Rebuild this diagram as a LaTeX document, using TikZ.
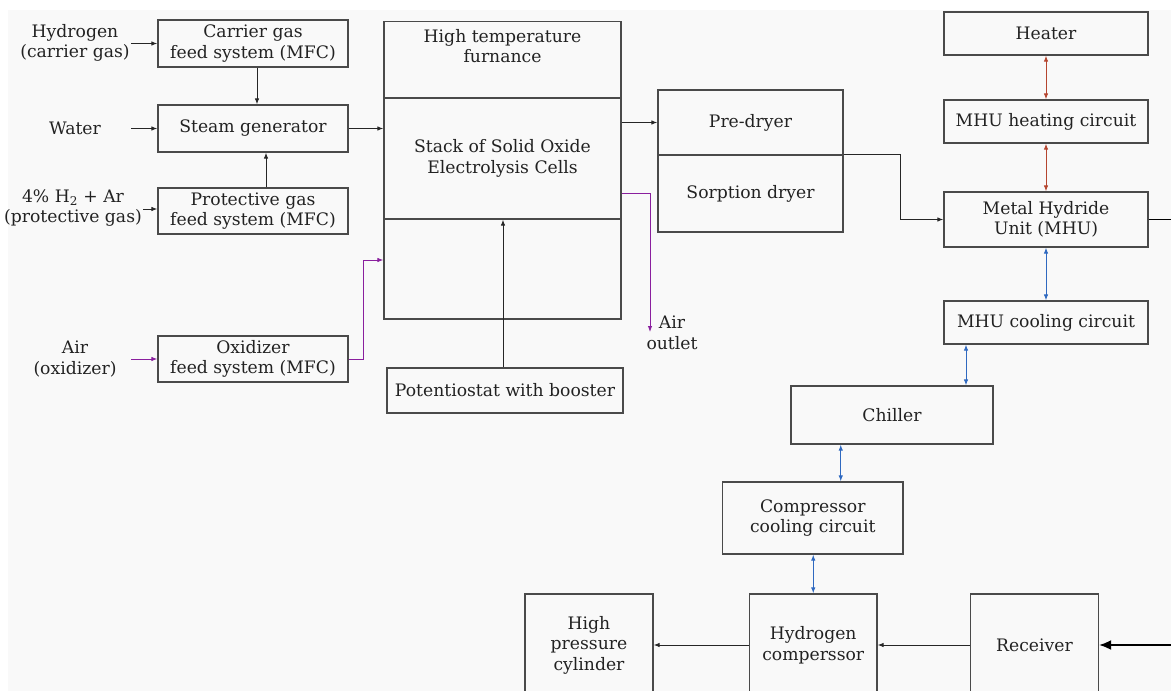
\documentclass[tikz,border=0pt]{standalone}
\usepackage{fontspec}
\setmainfont{DejaVu Serif}
\usepackage{xcolor}
\usepackage{tikz}
\usetikzlibrary{arrows.meta,positioning}
\definecolor{bgc}{HTML}{F9F9F9}
\definecolor{boxline}{HTML}{4A4A4A}
\definecolor{txt}{HTML}{222222}
\definecolor{heatred}{HTML}{B5452F}
\definecolor{coolblue}{HTML}{2F69C0}
\definecolor{airpurple}{HTML}{8A1F9E}

\begin{document}
\begin{tikzpicture}[
  x=1pt, y=-1pt,
  font=\fontsize{17.2}{20.5}\selectfont, text=txt,
  box/.style 2 args={draw=boxline, line width=1.3pt, align=center, inner sep=0pt,
              minimum width=#1pt, minimum height=#2pt},
  lbl/.style={align=center, inner sep=2pt},
  arr/.style={-{Latex[length=6pt,width=4.5pt]}, line width=0.9pt, draw=black!85},
  air/.style={arr, draw=airpurple},
  heat/.style={{Latex[length=6pt,width=4.5pt]}-{Latex[length=6pt,width=4.5pt]}, line width=0.9pt, draw=heatred},
  cool/.style={heat, draw=coolblue}]
\useasboundingbox (0,0) rectangle (1171,691);
\clip (0,0) rectangle (1171,691);
\fill[bgc] (8,10) rectangle (1171,691);

\node[box={190}{47}] (carrier) at (253,43.5) {Carrier gas\\feed system (MFC)};
\node[box={190}{47}] (steam) at (253,128.5) {Steam generator};
\node[box={190}{46}] (protect) at (253,211) {Protective gas\\feed system (MFC)};
\node[box={190}{46}] (oxid) at (253,359) {Oxidizer\\feed system (MFC)};

\node[lbl] (hyd) at (75,43) {Hydrogen\\(carrier gas)};
\node[lbl] (water) at (75,128) {Water};
\node[lbl] (prot) at (73,208) {4\% H\textsubscript{2} + Ar\\(protective gas)};
\node[lbl] (airin) at (75,359) {Air\\(oxidizer)};

\node[box={237}{76.5}] (furntop) at (502.5,59.75) {};
\node[lbl] (furntxt) at (502.5,46) {High temperature\\furnance};
\node[box={237}{121}] (stack) at (502.5,158.5) {Stack of Solid Oxide\\Electrolysis Cells};
\node[box={237}{100}] (furnbot) at (502.5,269) {};
\node[box={236}{45}] (pot) at (505,390.5) {Potentiostat with booster};
\node[lbl] (airout) at (672,333) {Air\\outlet};
\coordinate (airend) at (650,332);

\node[box={185}{65}] (predry) at (750.5,122.5) {Pre-dryer};
\node[box={185}{77}] (sorp) at (750.5,193.5) {Sorption dryer};

\node[box={204}{43}] (heater) at (1046,33.5) {Heater};
\node[box={204}{43}] (heatc) at (1046,121.5) {MHU heating circuit};
\node[box={204}{55}] (mhu) at (1046,219.5) {Metal Hydride\\Unit (MHU)};
\node[box={204}{43}] (coolc) at (1046,322.5) {MHU cooling circuit};
\coordinate (mhuout) at (1180,222);

\node[box={202}{58}] (chiller) at (892,415) {Chiller};
\node[box={180.5}{72}] (ccc) at (812.75,518) {Compressor\\cooling circuit};
\node[box={127.5}{102}] (comp) at (813.25,645) {Hydrogen\\comperssor};
\node[box={128}{102}] (hpc) at (589,645) {High\\pressure\\cylinder};
\node[box={128}{102}] (recv) at (1034.5,645) {Receiver};
\coordinate (recvin) at (1180,645);

\foreach \x in {carrier,steam}
  \draw[arr] ([xshift=-26pt]\x.west) -- (\x.west);
\draw[arr] ([xshift=-14pt,yshift=2pt]protect.west) -- ([yshift=2pt]protect.west);
\draw[air] ([xshift=-26pt]oxid.west) -- (oxid.west);
\draw[arr] ([xshift=4pt]carrier.south) -- ([xshift=4pt]steam.north);
\draw[arr] ([xshift=13pt]protect.north) -- ([xshift=13pt]steam.south);
\draw[arr] (steam.east) -- (steam.east -| stack.west);
\draw[air] (oxid.east) -- ++(15,0) |- ([yshift=9pt]furnbot.west);
\draw[arr] ([xshift=-2pt]pot.north) -- ([xshift=-2pt]pot.north |- stack.south);
\draw[arr] (predry.west -| stack.east) -- (predry.west);
\draw[air] ([yshift=-34.5pt]stack.east) -| (airend);
\draw[arr] (sorp.north east) -- ++(57,0) |- (mhu.west);
\draw[line width=1.6pt] (mhu.east) -- (mhu.east -| mhuout);

\foreach \x/\y in {heater/heatc,heatc/mhu} \draw[heat] (\x) -- (\y);
\draw[cool] (mhu) -- (coolc);
\draw[cool] ([xshift=-80pt]coolc.south) -- ([xshift=-80pt]coolc.south |- chiller.north);
\draw[cool] ([xshift=28pt]ccc.north) -- ([xshift=28pt]ccc.north |- chiller.south);
\draw[cool] ([xshift=0.5pt]ccc.south) -- ([xshift=0.5pt]ccc.south |- comp.north);

\foreach \x/\y in {recv/comp,comp/hpc} \draw[arr] (\x) -- (\y);
\draw[-{Latex[length=12pt,width=10pt]}, line width=1.8pt] (recvin) -- (recv.east);
\end{tikzpicture}
\end{document}
